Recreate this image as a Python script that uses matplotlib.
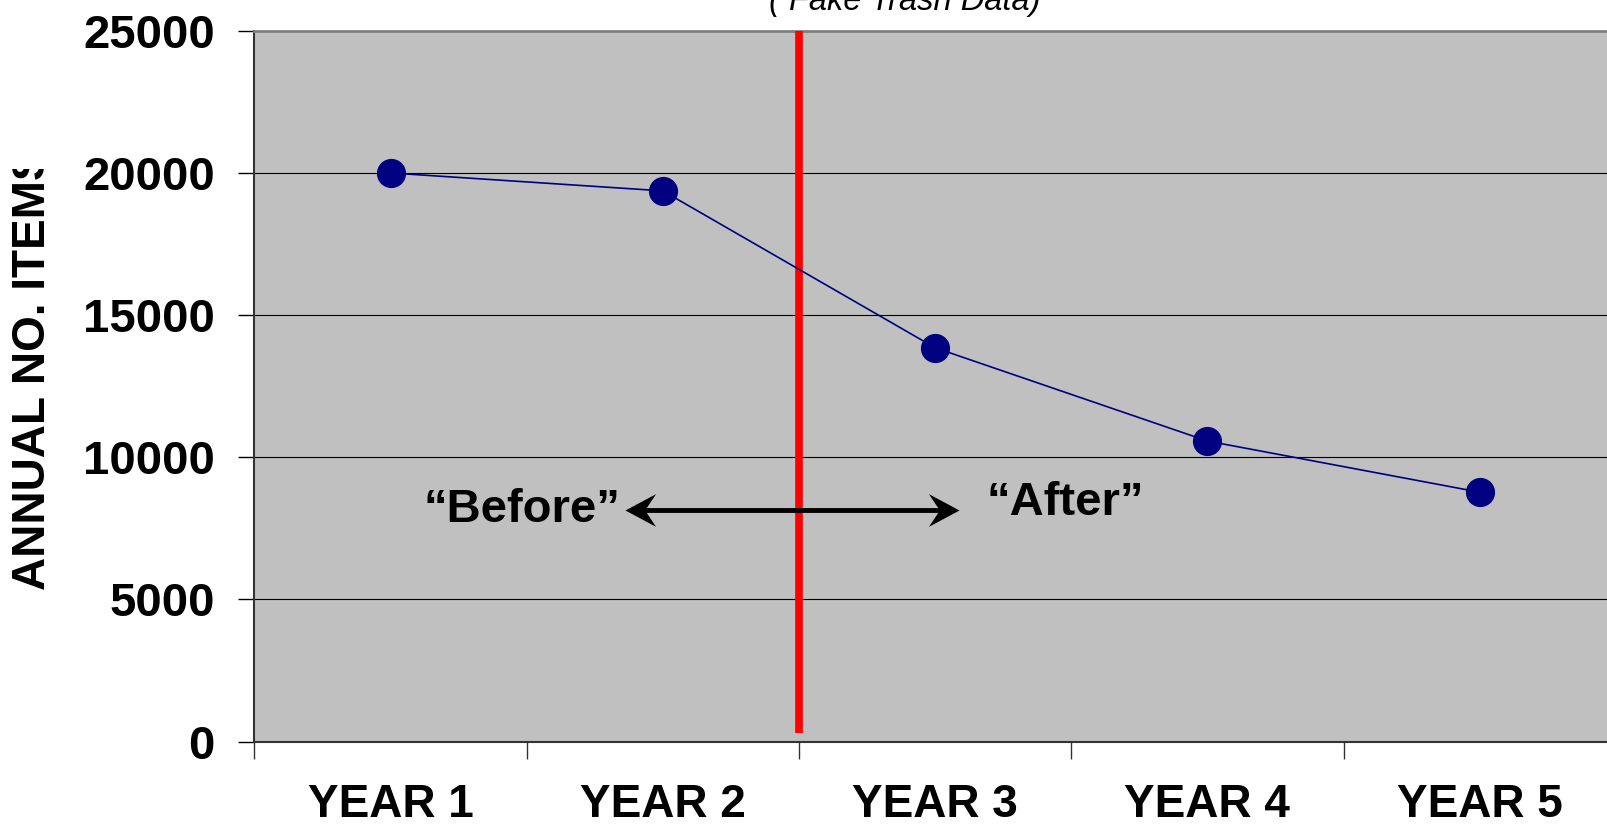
import matplotlib
matplotlib.use('Agg')
import matplotlib.pyplot as plt
from matplotlib.path import Path
from matplotlib.transforms import Bbox, TransformedBbox

# データ
years = ['YEAR 1', 'YEAR 2', 'YEAR 3', 'YEAR 4', 'YEAR 5']
items = [20000, 19370, 13850, 10570, 8770]
y_ticks = [0, 5000, 10000, 15000, 20000, 25000]
change_x = 2.0  # 介入の時点 (YEAR 2 と YEAR 3 の境界)
arrow_x = [1.362, 2.587]
arrow_y = 8150
before_label = '\u201cBefore\u201d'
after_label = '\u201cAfter\u201d'
title_text = '( Fake Trash Data)'
y_label = 'ANNUAL NO. ITEMS'

plt.rcParams['font.family'] = ['Liberation Sans', 'DejaVu Sans']

fig = plt.figure(figsize=(16.08, 8.24), dpi=100)
ax = fig.add_axes([0.1582, 0.1001, 0.8467, 0.8625])
ax.set_facecolor('#C0C0C0')

x_pos = [i + 0.5 for i in range(len(years))]
ax.plot(x_pos, items, color='#000080', linewidth=1.2, marker='o',
        markersize=20, markerfacecolor='#000080', markeredgecolor='#000080', zorder=5)

# 赤い縦線
ax.plot([change_x, change_x], [300, 25000], color='#FF0000', linewidth=5.5, zorder=4,
        solid_capstyle='butt')

# 矢印 (両端に矢じり)
head_left = Path([(0, 0), (28, 15), (18, 0), (28, -15), (0, 0)],
                 [Path.MOVETO, Path.LINETO, Path.LINETO, Path.LINETO, Path.CLOSEPOLY])
head_right = Path([(0, 0), (-28, 15), (-18, 0), (-28, -15), (0, 0)],
                  [Path.MOVETO, Path.LINETO, Path.LINETO, Path.LINETO, Path.CLOSEPOLY])
ax.plot([arrow_x[0] + 0.03, arrow_x[1] - 0.03], [arrow_y, arrow_y], color='black',
        linewidth=3.5, solid_capstyle='butt', zorder=6)
ax.plot([arrow_x[0]], [arrow_y], linestyle='none', marker=head_left, markersize=44,
        color='black', markeredgewidth=0, zorder=7)
ax.plot([arrow_x[1]], [arrow_y], linestyle='none', marker=head_right, markersize=44,
        color='black', markeredgewidth=0, zorder=7)

ax.text(1.343, 8143, before_label, ha='right', va='center', fontsize=34,
        fontweight='bold', zorder=6)
ax.text(2.689, 8407, after_label, ha='left', va='center', fontsize=34,
        fontweight='bold', zorder=6)

ax.set_xlim(0, 5)
ax.set_ylim(0, 25000)

# 軸の目盛り
ax.set_yticks(y_ticks)
ax.set_yticklabels([str(v) for v in y_ticks], fontsize=34, fontweight='bold')
ax.tick_params(axis='y', direction='out', length=11.5, width=1, pad=17, colors='black')

ax.set_xticks(range(len(years) + 1))
ax.set_xticklabels([])
ax.set_xticks(x_pos, minor=True)
ax.set_xticklabels(years, minor=True, fontsize=33, fontweight='bold')
ax.tick_params(axis='x', which='major', direction='out', length=12, width=1, color='#333333')
ax.tick_params(axis='x', which='minor', length=0, pad=30)

ax.grid(axis='y', color='black', linewidth=0.8)
ax.set_axisbelow(True)

ax.spines['top'].set_color('#808080')
ax.spines['top'].set_linewidth(2)
ax.spines['right'].set_visible(False)
ax.spines['left'].set_color('#333333')
ax.spines['left'].set_linewidth(1.5)
ax.spines['bottom'].set_color('#333333')
ax.spines['bottom'].set_linewidth(1.5)

# タイトル (上が切れている)
fig.text(0.5628, 0.988, title_text, ha='center', va='baseline', fontsize=23.5,
         style='italic')

# Y軸ラベル (上が切れている)
yl = fig.text(0.0205, 0.284, y_label, rotation=90, ha='center', va='bottom',
              fontsize=33, fontweight='bold')
yl.set_clip_box(TransformedBbox(Bbox([[0, 0], [1, 655 / 824]]), fig.transFigure))
yl.set_clip_on(True)

plt.savefig('out.png', dpi=100)
